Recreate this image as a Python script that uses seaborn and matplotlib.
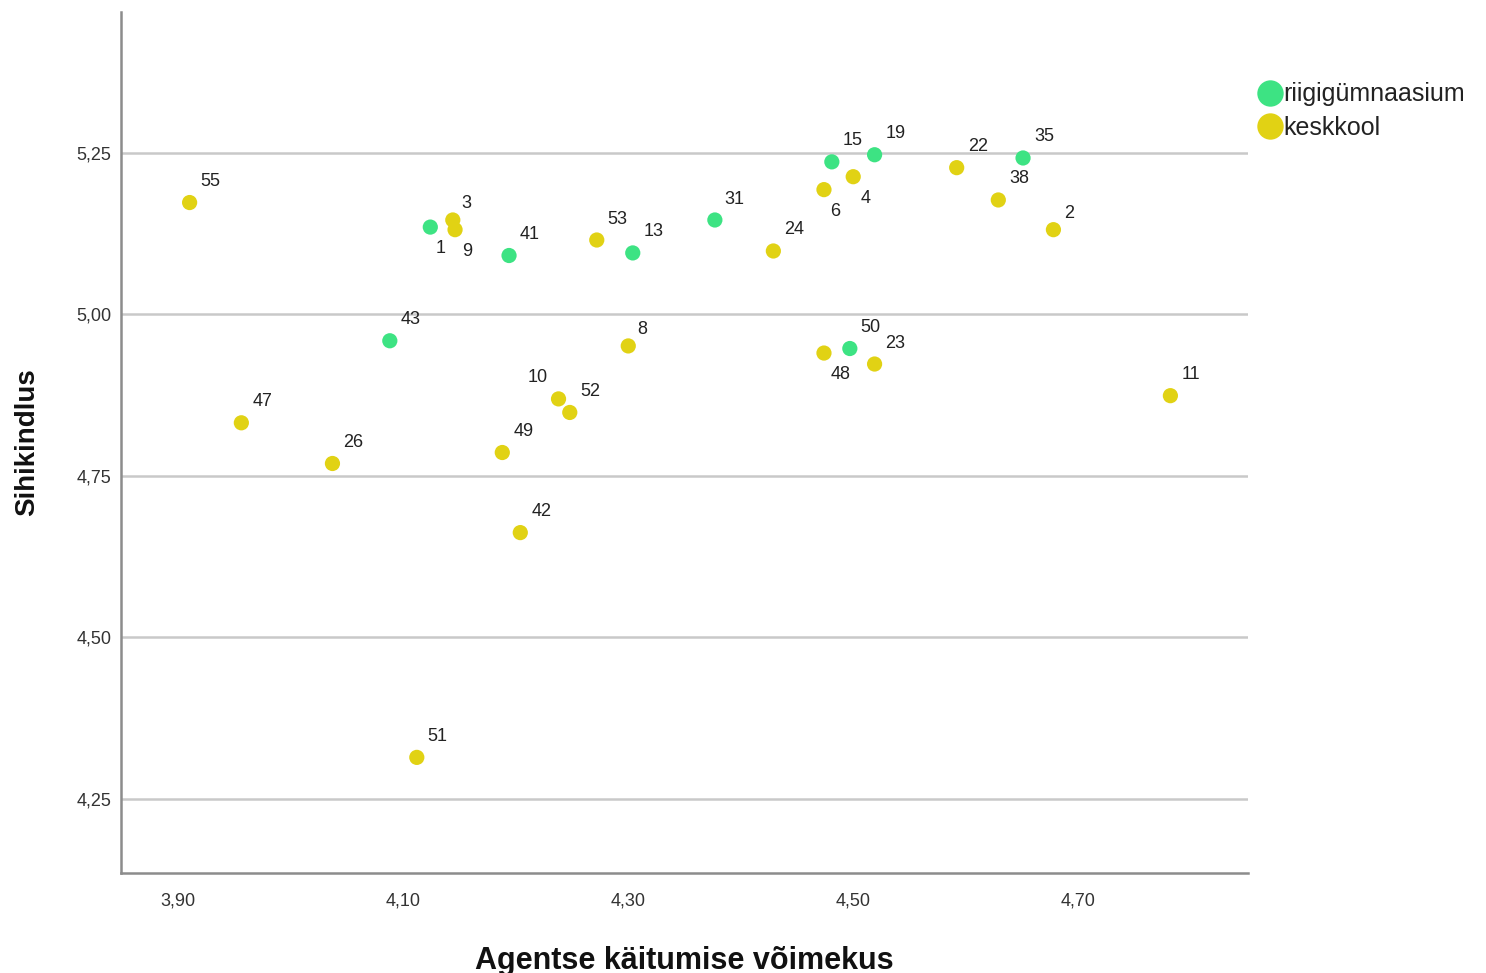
import matplotlib
matplotlib.use("Agg")
import matplotlib.pyplot as plt
import seaborn as sns
import pandas as pd
from matplotlib.lines import Line2D

# ---- data ----
ids = [55, 1, 3, 9, 41, 53, 13, 31, 24, 6, 15, 4, 19, 22, 35, 38, 2,
       43, 8, 50, 48, 23, 11, 10, 52, 47, 26, 49, 42, 51]
agents = [3.910, 4.124, 4.144, 4.146, 4.194, 4.272, 4.304, 4.377, 4.429, 4.474,
          4.481, 4.500, 4.519, 4.592, 4.651, 4.629, 4.678,
          4.088, 4.300, 4.497, 4.474, 4.519, 4.782, 4.238, 4.248, 3.956, 4.037,
          4.188, 4.204, 4.112]
sihikindlus = [5.173, 5.135, 5.146, 5.131, 5.091, 5.115, 5.095, 5.146, 5.098, 5.193,
               5.236, 5.213, 5.247, 5.227, 5.242, 5.177, 5.131,
               4.959, 4.951, 4.947, 4.940, 4.923, 4.874, 4.869, 4.848, 4.832, 4.769,
               4.786, 4.662, 4.314]
kool = ["keskkool", "riigigümnaasium", "keskkool", "keskkool", "riigigümnaasium",
        "keskkool", "riigigümnaasium", "riigigümnaasium", "keskkool", "keskkool",
        "riigigümnaasium", "keskkool", "riigigümnaasium", "keskkool", "riigigümnaasium",
        "keskkool", "keskkool",
        "riigigümnaasium", "keskkool", "riigigümnaasium", "keskkool", "keskkool",
        "keskkool", "keskkool", "keskkool", "keskkool", "keskkool", "keskkool",
        "keskkool", "keskkool"]
groups = ["riigigümnaasium", "keskkool"]
xticks = [3.90, 4.10, 4.30, 4.50, 4.70]
yticks = [4.25, 4.50, 4.75, 5.00, 5.25]

# ---- style ----
colors = {"riigigümnaasium": "#3de383", "keskkool": "#e1d214"}
# label offsets in pixels (dx right, dy down); default upper right
default_off = (21, -21)
label_off = {1: (10, 21), 3: (14, -16), 9: (12, 22), 6: (11, 22), 4: (12, 22),
             48: (17, 21), 10: (-21, -21), 2: (16, -16), 8: (14, -16),
             31: (19, -20)}

df = pd.DataFrame({"id": ids, "x": agents, "y": sihikindlus, "kool": kool})

sns.set_style("white")
plt.rcParams['font.family'] = ['Liberation Sans', 'DejaVu Sans']

fig = plt.figure(figsize=(14.86, 9.73), dpi=100)
ax = fig.add_axes([121/1486, 1-873/973, (1248-121)/1486, (873-12)/973])

ax.set_xlim(3.849, 4.851)
ax.set_ylim(4.135, 5.468)
for yt in yticks:
    ax.axhline(yt, color="#c9c9c9", lw=1.8, zorder=0)

sns.scatterplot(data=df, x="x", y="y", hue="kool", hue_order=groups,
                palette=colors, s=120, edgecolor="none", legend=False,
                ax=ax, zorder=3)

for i, xv, yv in zip(ids, agents, sihikindlus):
    dx, dy = label_off.get(i, default_off)
    ax.annotate(str(i), (xv, yv), xytext=(dx*0.72, -dy*0.72),
                textcoords="offset points", ha="center", va="center",
                fontsize=13, color="#222222", zorder=4)

ax.set_xticks(xticks)
ax.set_xticklabels([f"{v:.2f}".replace(".", ",") for v in xticks],
                   fontsize=13, color="#333333")
ax.set_yticks(yticks)
ax.set_yticklabels([f"{v:.2f}".replace(".", ",") for v in yticks],
                   fontsize=13, color="#333333")
ax.tick_params(axis="x", length=0, pad=14)
ax.tick_params(axis="y", length=0, pad=7)

for s in ["top", "right"]:
    ax.spines[s].set_visible(False)
for s in ["left", "bottom"]:
    ax.spines[s].set_color("#8c8c8c")
    ax.spines[s].set_linewidth(1.8)

ax.set_xlabel("Agentse käitumise võimekus", fontsize=22, fontweight="bold",
              labelpad=26, color="#111111")
ax.set_ylabel("Sihikindlus", fontsize=20, fontweight="bold", labelpad=26,
              color="#111111")

handles = [Line2D([0], [0], marker="o", color="none", markerfacecolor=colors[g],
                  markeredgecolor="none", markersize=19) for g in groups]
leg = ax.legend(handles, groups, loc="upper left", bbox_to_anchor=(0.999, 0.93),
                frameon=False, fontsize=18, handletextpad=0.0, labelspacing=0.38,
                handlelength=1.05, borderaxespad=0)
for t in leg.get_texts():
    t.set_color("#222222")

fig.savefig("out.png", dpi=100)
